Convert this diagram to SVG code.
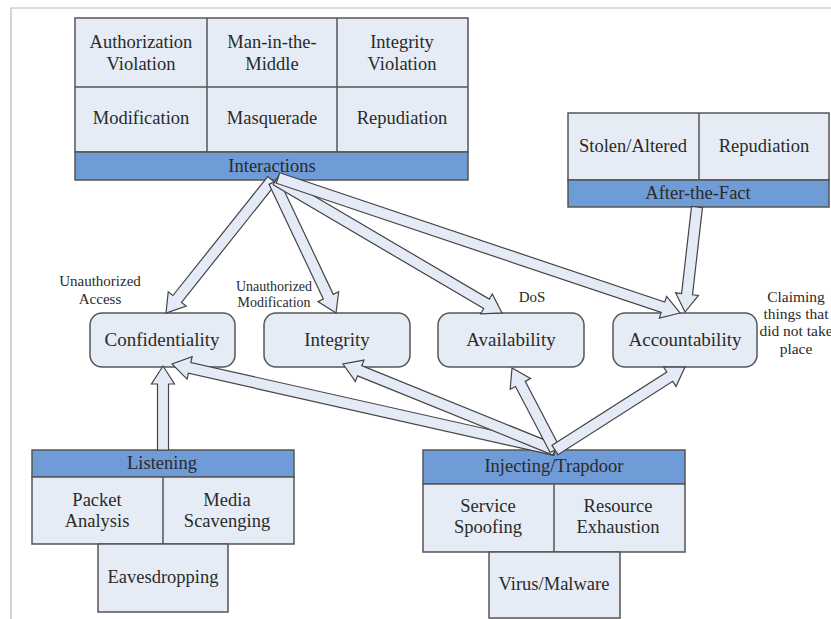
<svg xmlns="http://www.w3.org/2000/svg" width="831" height="619" viewBox="0 0 831 619">
<style>
.box{fill:#e6ecf6;stroke:#555;stroke-width:1.5}
.bar{fill:#6f9bd6;stroke:#555;stroke-width:1.5}
.node{fill:#e6ecf6;stroke:#555;stroke-width:1.5}
.arr{fill:#e4ebf6;stroke:#444;stroke-width:1.2;stroke-linejoin:miter}
text{font-family:"Liberation Serif","Times New Roman",serif;fill:#2a2a2a;text-anchor:middle}
.t{font-size:18.5px}
.n{font-size:19px}
.s{font-size:15px}
.c{font-size:15.5px}
.ss{font-size:14px}
.frame{stroke:#bbb;stroke-width:1.2;fill:none}
</style>
<rect width="831" height="619" fill="#fff"/>
<path class="frame" d="M11,619 V8 H831"/>

<g id="interactions">
<rect class="box" x="75" y="18" width="393" height="134"/>
<line class="box" x1="75" y1="87" x2="468" y2="87"/>
<line class="box" x1="207" y1="18" x2="207" y2="152"/>
<line class="box" x1="337" y1="18" x2="337" y2="152"/>
<rect class="bar" x="75" y="152" width="393" height="28"/>
<text class="t" x="141" y="48">Authorization</text>
<text class="t" x="141" y="70">Violation</text>
<text class="t" x="272" y="48">Man-in-the-</text>
<text class="t" x="272" y="70">Middle</text>
<text class="t" x="402" y="48">Integrity</text>
<text class="t" x="402" y="70">Violation</text>
<text class="t" x="141" y="124">Modification</text>
<text class="t" x="272" y="124">Masquerade</text>
<text class="t" x="402" y="124">Repudiation</text>
<text class="t" x="272" y="172">Interactions</text>
</g>

<g id="afterthefact">
<rect class="box" x="568" y="113" width="261" height="67"/>
<line class="box" x1="699" y1="113" x2="699" y2="180"/>
<rect class="bar" x="568" y="180" width="261" height="27"/>
<text class="t" x="633" y="152">Stolen/Altered</text>
<text class="t" x="764" y="152">Repudiation</text>
<text class="t" x="698" y="199">After-the-Fact</text>
</g>

<g id="confidentiality">
<rect class="node" x="90" y="313" width="145" height="54" rx="12"/>
<text class="n" x="162" y="346">Confidentiality</text>
</g>
<g id="integrity">
<rect class="node" x="264" y="313" width="146" height="54" rx="12"/>
<text class="n" x="337" y="346">Integrity</text>
</g>
<g id="availability">
<rect class="node" x="438" y="313" width="146" height="54" rx="12"/>
<text class="n" x="511" y="346">Availability</text>
</g>
<g id="accountability">
<rect class="node" x="613" y="313" width="144" height="54" rx="12"/>
<text class="n" x="685" y="346">Accountability</text>
</g>

<g id="labels">
<text class="s" x="100" y="286">Unauthorized</text>
<text class="s" x="100" y="304">Access</text>
<text class="ss" x="274" y="291">Unauthorized</text>
<text class="ss" x="274" y="307">Modification</text>
<text class="s" x="532" y="302">DoS</text>
<text class="c" x="796" y="302">Claiming</text>
<text class="c" x="796" y="319">things that</text>
<text class="c" x="796" y="336">did not take</text>
<text class="c" x="796" y="354">place</text>
</g>

<g id="listening">
<rect class="bar" x="32" y="450" width="262" height="27"/>
<rect class="box" x="32" y="477" width="262" height="67"/>
<line class="box" x1="163" y1="477" x2="163" y2="544"/>
<rect class="box" x="98" y="544" width="130" height="68"/>
<text class="t" x="162" y="469">Listening</text>
<text class="t" x="97" y="506">Packet</text>
<text class="t" x="97" y="527">Analysis</text>
<text class="t" x="227" y="506">Media</text>
<text class="t" x="227" y="527">Scavenging</text>
<text class="t" x="163" y="583">Eavesdropping</text>
</g>

<g id="injecting">
<rect class="bar" x="423" y="450" width="262" height="34"/>
<rect class="box" x="423" y="484" width="262" height="68"/>
<line class="box" x1="554" y1="484" x2="554" y2="552"/>
<rect class="box" x="489" y="552" width="131" height="66"/>
<text class="t" x="554" y="472">Injecting/Trapdoor</text>
<text class="t" x="488" y="512">Service</text>
<text class="t" x="488" y="533">Spoofing</text>
<text class="t" x="618" y="512">Resource</text>
<text class="t" x="618" y="533">Exhaustion</text>
<text class="t" x="554" y="590">Virus/Malware</text>
</g>

<g id="connectors">
<polygon class="arr" transform="translate(272,180) rotate(128.55)" points="0,-5.5 152.1,-5.5 152.1,-11.5 170.1,0 152.1,11.5 152.1,5.5 0,5.5"/>
<polygon class="arr" transform="translate(274,182) rotate(64.67)" points="0,-5.5 126.9,-5.5 126.9,-11.5 144.9,0 126.9,11.5 126.9,5.5 0,5.5"/>
<polygon class="arr" transform="translate(276,180) rotate(30.47)" points="0,-5.5 244.2,-5.5 244.2,-11.5 262.2,0 244.2,11.5 244.2,5.5 0,5.5"/>
<polygon class="arr" transform="translate(278,178) rotate(18.56)" points="0,-5.5 406.1,-5.5 406.1,-11.5 424.1,0 406.1,11.5 406.1,5.5 0,5.5"/>
<polygon class="arr" transform="translate(697,207) rotate(96.52)" points="0,-5.5 87.7,-5.5 87.7,-11.5 105.7,0 87.7,11.5 87.7,5.5 0,5.5"/>
<polygon class="arr" transform="translate(555,450) rotate(-167.34)" points="0,-5.5 374.5,-5.5 374.5,-11.5 392.5,0 374.5,11.5 374.5,5.5 0,5.5"/>
<polygon class="arr" transform="translate(555,450) rotate(-157.92)" points="0,-5.5 210.8,-5.5 210.8,-11.5 228.8,0 210.8,11.5 210.8,5.5 0,5.5"/>
<polygon class="arr" transform="translate(555,450) rotate(-117.67)" points="0,-5.5 74.6,-5.5 74.6,-11.5 92.6,0 74.6,11.5 74.6,5.5 0,5.5"/>
<polygon class="arr" transform="translate(555,450) rotate(-32.55)" points="0,-5.5 136.2,-5.5 136.2,-11.5 154.2,0 136.2,11.5 136.2,5.5 0,5.5"/>
<polygon class="arr" transform="translate(163,450) rotate(-90)" points="0,-5.5 66,-5.5 66,-11.5 84,0 66,11.5 66,5.5 0,5.5"/>
</g>
</svg>
